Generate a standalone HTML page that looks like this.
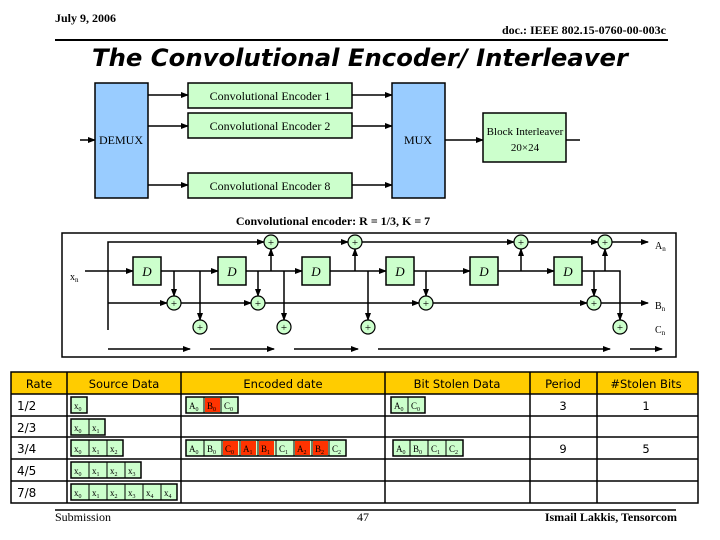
<!DOCTYPE html>
<html><head><meta charset="utf-8"><style>
body{margin:0;width:720px;height:540px;background:#fff;overflow:hidden}
svg{display:block}
.t{font-family:"Liberation Serif",serif}
.s{font-family:"DejaVu Sans",sans-serif}
</style></head><body>
<svg width="720" height="540" viewBox="0 0 720 540">
<defs>
<marker id="a" markerWidth="8" markerHeight="8" refX="7" refY="4" orient="auto" markerUnits="userSpaceOnUse"><path d="M0,1 L8,4 L0,7z" fill="#000"/></marker>
</defs>
<text x="55" y="22" class="t" font-size="12" font-weight="bold">July 9, 2006</text>
<text x="666" y="34" class="t" font-size="12" font-weight="bold" text-anchor="end">doc.: IEEE 802.15-0760-00-003c</text>
<line x1="55" y1="40" x2="668" y2="40" stroke="#000" stroke-width="2"/>
<text x="360" y="66" class="s" font-size="24" font-weight="bold" font-style="italic" text-anchor="middle" textLength="536" lengthAdjust="spacingAndGlyphs">The Convolutional Encoder/ Interleaver</text>

<g stroke="#000" stroke-width="1.5" fill="none">
<line x1="80" y1="140" x2="95" y2="140" marker-end="url(#a)"/>
<line x1="148" y1="95" x2="188" y2="95" marker-end="url(#a)"/>
<line x1="148" y1="126" x2="188" y2="126" marker-end="url(#a)"/>
<line x1="148" y1="185" x2="188" y2="185" marker-end="url(#a)"/>
<line x1="352" y1="95" x2="392" y2="95" marker-end="url(#a)"/>
<line x1="352" y1="126" x2="392" y2="126" marker-end="url(#a)"/>
<line x1="352" y1="185" x2="392" y2="185" marker-end="url(#a)"/>
<line x1="445" y1="140" x2="483" y2="140" marker-end="url(#a)"/>
<line x1="566" y1="140" x2="580" y2="140"/>
</g>
<rect x="95" y="83" width="53" height="115" fill="#99CCFF" stroke="#000" stroke-width="1.5"/>
<rect x="392" y="83" width="53" height="115" fill="#99CCFF" stroke="#000" stroke-width="1.5"/>
<rect x="188" y="83" width="164" height="25" fill="#CCFFCC" stroke="#000" stroke-width="1.5"/>
<rect x="188" y="113" width="164" height="25" fill="#CCFFCC" stroke="#000" stroke-width="1.5"/>
<rect x="188" y="173" width="164" height="25" fill="#CCFFCC" stroke="#000" stroke-width="1.5"/>
<rect x="483" y="113" width="83" height="49" fill="#CCFFCC" stroke="#000" stroke-width="1.5"/>
<g class="t" font-size="12" text-anchor="middle">
<text x="121" y="144">DEMUX</text><text x="418" y="144">MUX</text>
<text x="270" y="100">Convolutional Encoder 1</text>
<text x="270" y="130">Convolutional Encoder 2</text>
<text x="270" y="190">Convolutional Encoder 8</text>
<text x="525" y="135" font-size="11">Block Interleaver</text><text x="525" y="151" font-size="11">20×24</text>
<text x="333" y="225" font-weight="bold">Convolutional encoder: R = 1/3, K = 7</text>
</g>

<rect x="62" y="233" width="614" height="124" fill="none" stroke="#000" stroke-width="1.5"/>
<g stroke="#000" stroke-width="1.5" fill="none">
<line x1="85" y1="271" x2="133" y2="271" marker-end="url(#a)"/>
<line x1="161" y1="271" x2="218" y2="271" marker-end="url(#a)"/>
<line x1="246" y1="271" x2="302" y2="271" marker-end="url(#a)"/>
<line x1="330" y1="271" x2="386" y2="271" marker-end="url(#a)"/>
<line x1="414" y1="271" x2="470" y2="271" marker-end="url(#a)"/>
<line x1="498" y1="271" x2="554" y2="271" marker-end="url(#a)"/>
<polyline points="582,271 620,271 620,320" marker-end="url(#a)"/>
<polyline points="108,330 108,242 264,242" marker-end="url(#a)"/>
<line x1="278" y1="242" x2="348" y2="242" marker-end="url(#a)"/>
<line x1="362" y1="242" x2="514" y2="242" marker-end="url(#a)"/>
<line x1="528" y1="242" x2="598" y2="242" marker-end="url(#a)"/>
<line x1="612" y1="242" x2="648" y2="242" marker-end="url(#a)"/>
<line x1="108" y1="303" x2="167" y2="303" marker-end="url(#a)"/>
<line x1="181" y1="303" x2="251" y2="303" marker-end="url(#a)"/>
<line x1="265" y1="303" x2="419" y2="303" marker-end="url(#a)"/>
<line x1="433" y1="303" x2="587" y2="303" marker-end="url(#a)"/>
<line x1="601" y1="303" x2="648" y2="303" marker-end="url(#a)"/>
<line x1="271" y1="271" x2="271" y2="249" marker-end="url(#a)"/>
<line x1="355" y1="271" x2="355" y2="249" marker-end="url(#a)"/>
<line x1="521" y1="271" x2="521" y2="249" marker-end="url(#a)"/>
<line x1="605" y1="271" x2="605" y2="249" marker-end="url(#a)"/>
<line x1="174" y1="271" x2="174" y2="296" marker-end="url(#a)"/>
<line x1="258" y1="271" x2="258" y2="296" marker-end="url(#a)"/>
<line x1="426" y1="271" x2="426" y2="296" marker-end="url(#a)"/>
<line x1="594" y1="271" x2="594" y2="296" marker-end="url(#a)"/>
<line x1="200" y1="271" x2="200" y2="320" marker-end="url(#a)"/>
<line x1="284" y1="271" x2="284" y2="320" marker-end="url(#a)"/>
<line x1="368" y1="271" x2="368" y2="320" marker-end="url(#a)"/>
<line x1="108" y1="349" x2="190" y2="349" marker-end="url(#a)"/>
<line x1="210" y1="349" x2="274" y2="349" marker-end="url(#a)"/>
<line x1="294" y1="349" x2="358" y2="349" marker-end="url(#a)"/>
<line x1="378" y1="349" x2="610" y2="349" marker-end="url(#a)"/>
<line x1="630" y1="349" x2="662" y2="349" marker-end="url(#a)"/>
</g>
<g fill="#CCFFCC" stroke="#000">
<rect x="133" y="257" width="28" height="28" stroke-width="1.5"/><rect x="218" y="257" width="28" height="28" stroke-width="1.5"/>
<rect x="302" y="257" width="28" height="28" stroke-width="1.5"/><rect x="386" y="257" width="28" height="28" stroke-width="1.5"/>
<rect x="470" y="257" width="28" height="28" stroke-width="1.5"/><rect x="554" y="257" width="28" height="28" stroke-width="1.5"/>
</g>
<g class="t" font-size="13" font-style="italic" text-anchor="middle">
<text x="147" y="276">D</text><text x="232" y="276">D</text><text x="316" y="276">D</text><text x="400" y="276">D</text><text x="484" y="276">D</text><text x="568" y="276">D</text>
</g>
<g fill="#CCFFCC" stroke="#000" stroke-width="1.2">
<circle cx="271" cy="242" r="7"/><circle cx="355" cy="242" r="7"/><circle cx="521" cy="242" r="7"/><circle cx="605" cy="242" r="7"/>
<circle cx="174" cy="303" r="7"/><circle cx="258" cy="303" r="7"/><circle cx="426" cy="303" r="7"/><circle cx="594" cy="303" r="7"/>
<circle cx="200" cy="327" r="7"/><circle cx="284" cy="327" r="7"/><circle cx="368" cy="327" r="7"/><circle cx="620" cy="327" r="7"/>
</g>
<g class="t" font-size="11" text-anchor="middle">
<text x="271" y="246">+</text><text x="355" y="246">+</text><text x="521" y="246">+</text><text x="605" y="246">+</text>
<text x="174" y="307">+</text><text x="258" y="307">+</text><text x="426" y="307">+</text><text x="594" y="307">+</text>
<text x="200" y="331">+</text><text x="284" y="331">+</text><text x="368" y="331">+</text><text x="620" y="331">+</text>
</g>
<g class="t" font-size="10">
<text x="70" y="280">x<tspan font-size="7" dy="2">n</tspan></text>
<text x="655" y="249">A<tspan font-size="7" dy="2">n</tspan></text>
<text x="655" y="309">B<tspan font-size="7" dy="2">n</tspan></text>
<text x="655" y="333">C<tspan font-size="7" dy="2">n</tspan></text>
</g>

<rect x="11" y="372" width="687" height="22" fill="#FFCC00"/>
<g stroke="#000" stroke-width="1.5" fill="none">
<rect x="11" y="372" width="687" height="131"/>
<line x1="11" y1="394" x2="698" y2="394"/><line x1="11" y1="416" x2="698" y2="416"/>
<line x1="11" y1="437" x2="698" y2="437"/><line x1="11" y1="459" x2="698" y2="459"/>
<line x1="11" y1="481" x2="698" y2="481"/>
<line x1="67" y1="372" x2="67" y2="503"/><line x1="181" y1="372" x2="181" y2="503"/>
<line x1="385" y1="372" x2="385" y2="503"/><line x1="530" y1="372" x2="530" y2="503"/>
<line x1="597" y1="372" x2="597" y2="503"/>
</g>
<g class="s" font-size="11.5" text-anchor="middle">
<text x="39" y="388">Rate</text><text x="124" y="388">Source Data</text><text x="283" y="388">Encoded date</text>
<text x="457" y="388">Bit Stolen Data</text><text x="563" y="388">Period</text><text x="646" y="388">#Stolen Bits</text>
<text x="563" y="410">3</text><text x="646" y="410">1</text><text x="563" y="453">9</text><text x="646" y="453">5</text>
</g>
<g class="s" font-size="12">
<text x="17" y="410">1/2</text><text x="17" y="432">2/3</text><text x="17" y="453">3/4</text><text x="17" y="475">4/5</text><text x="17" y="497">7/8</text>
</g>
<g stroke="#000" stroke-width="1.5">
<rect x="71" y="397" width="16" height="16" fill="#CCFFCC"/>
<rect x="71" y="419" width="34" height="16" fill="#CCFFCC"/>
<rect x="71" y="440" width="52" height="16" fill="#CCFFCC"/>
<rect x="71" y="462" width="70" height="16" fill="#CCFFCC"/>
<rect x="71" y="484" width="106" height="16" fill="#CCFFCC"/>
<rect x="186" y="397" width="52" height="16" fill="#CCFFCC"/>
<rect x="186" y="440" width="160" height="16" fill="#CCFFCC"/>
<rect x="391" y="397" width="34" height="16" fill="#CCFFCC"/>
<rect x="393" y="440" width="70" height="16" fill="#CCFFCC"/>
</g>
<g fill="#FF3300">
<rect x="205" y="398" width="15" height="14"/>
<rect x="223" y="441" width="15" height="14"/><rect x="241" y="441" width="15" height="14"/><rect x="259" y="441" width="15" height="14"/>
<rect x="295" y="441" width="15" height="14"/><rect x="313" y="441" width="15" height="14"/>
</g>
<g stroke="#000" stroke-width="1" fill="none">
<line x1="89" y1="419" x2="89" y2="435"/>
<line x1="89" y1="440" x2="89" y2="456"/><line x1="107" y1="440" x2="107" y2="456"/>
<line x1="89" y1="462" x2="89" y2="478"/><line x1="107" y1="462" x2="107" y2="478"/><line x1="125" y1="462" x2="125" y2="478"/>
<line x1="89" y1="484" x2="89" y2="500"/><line x1="107" y1="484" x2="107" y2="500"/><line x1="125" y1="484" x2="125" y2="500"/><line x1="143" y1="484" x2="143" y2="500"/><line x1="161" y1="484" x2="161" y2="500"/>
<line x1="204" y1="397" x2="204" y2="413"/><line x1="221" y1="397" x2="221" y2="413"/>
<line x1="204" y1="440" x2="204" y2="456"/><line x1="222" y1="440" x2="222" y2="456"/><line x1="240" y1="440" x2="240" y2="456"/><line x1="258" y1="440" x2="258" y2="456"/><line x1="276" y1="440" x2="276" y2="456"/><line x1="294" y1="440" x2="294" y2="456"/><line x1="312" y1="440" x2="312" y2="456"/><line x1="329" y1="440" x2="329" y2="456"/>
<line x1="408" y1="397" x2="408" y2="413"/>
<line x1="410" y1="440" x2="410" y2="456"/><line x1="428" y1="440" x2="428" y2="456"/><line x1="446" y1="440" x2="446" y2="456"/>
</g>
<g class="t" font-size="9">
<text x="74" y="409">x<tspan font-size="6" dy="2">0</tspan></text>
<text x="74" y="431">x<tspan font-size="6" dy="2">0</tspan></text><text x="92" y="431">x<tspan font-size="6" dy="2">1</tspan></text>
<text x="74" y="452">x<tspan font-size="6" dy="2">0</tspan></text><text x="92" y="452">x<tspan font-size="6" dy="2">1</tspan></text><text x="110" y="452">x<tspan font-size="6" dy="2">2</tspan></text>
<text x="74" y="474">x<tspan font-size="6" dy="2">0</tspan></text><text x="92" y="474">x<tspan font-size="6" dy="2">1</tspan></text><text x="110" y="474">x<tspan font-size="6" dy="2">2</tspan></text><text x="128" y="474">x<tspan font-size="6" dy="2">3</tspan></text>
<text x="74" y="496">x<tspan font-size="6" dy="2">0</tspan></text><text x="92" y="496">x<tspan font-size="6" dy="2">1</tspan></text><text x="110" y="496">x<tspan font-size="6" dy="2">2</tspan></text><text x="128" y="496">x<tspan font-size="6" dy="2">3</tspan></text><text x="146" y="496">x<tspan font-size="6" dy="2">4</tspan></text><text x="164" y="496">x<tspan font-size="6" dy="2">4</tspan></text>
<text x="189" y="409">A<tspan font-size="6" dy="2">0</tspan></text><text x="207" y="409">B<tspan font-size="6" dy="2">0</tspan></text><text x="224" y="409">C<tspan font-size="6" dy="2">0</tspan></text>
<text x="189" y="452">A<tspan font-size="6" dy="2">0</tspan></text><text x="207" y="452">B<tspan font-size="6" dy="2">0</tspan></text><text x="225" y="452">C<tspan font-size="6" dy="2">0</tspan></text><text x="243" y="452">A<tspan font-size="6" dy="2">1</tspan></text><text x="261" y="452">B<tspan font-size="6" dy="2">1</tspan></text><text x="279" y="452">C<tspan font-size="6" dy="2">1</tspan></text><text x="297" y="452">A<tspan font-size="6" dy="2">2</tspan></text><text x="315" y="452">B<tspan font-size="6" dy="2">2</tspan></text><text x="332" y="452">C<tspan font-size="6" dy="2">2</tspan></text>
<text x="394" y="409">A<tspan font-size="6" dy="2">0</tspan></text><text x="411" y="409">C<tspan font-size="6" dy="2">0</tspan></text>
<text x="396" y="452">A<tspan font-size="6" dy="2">0</tspan></text><text x="413" y="452">B<tspan font-size="6" dy="2">0</tspan></text><text x="431" y="452">C<tspan font-size="6" dy="2">1</tspan></text><text x="449" y="452">C<tspan font-size="6" dy="2">2</tspan></text>
</g>

<line x1="55" y1="510" x2="676" y2="510" stroke="#000" stroke-width="1.5"/>
<text x="55" y="521" class="t" font-size="12">Submission</text>
<text x="363" y="521" class="t" font-size="12" text-anchor="middle">47</text>
<text x="677" y="521" class="t" font-size="12" font-weight="bold" text-anchor="end">Ismail Lakkis, Tensorcom</text>
</svg>
</body></html>
